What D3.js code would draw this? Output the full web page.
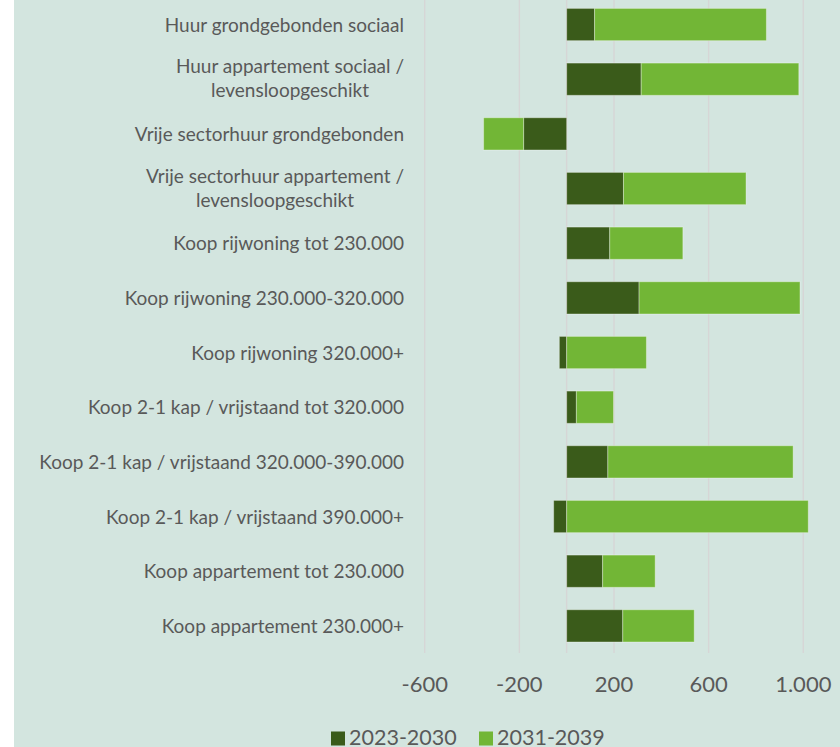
<!DOCTYPE html>
<html>
<head>
<meta charset="utf-8">
<script src="https://cdn.jsdelivr.net/npm/d3@7"></script>
<style>
  html, body { margin: 0; padding: 0; background: #ffffff; }
  svg { display: block; font-family: Lato, "Open Sans", sans-serif; }
</style>
</head>
<body>
<svg id="chart" width="840" height="747"></svg>
<script>
// ── Data ──────────────────────────────────────────────────────────────────
const categories = [
  'Huur grondgebonden sociaal',
  'Huur appartement sociaal /\nlevensloopgeschikt',
  'Vrije sectorhuur grondgebonden',
  'Vrije sectorhuur appartement /\nlevensloopgeschikt',
  'Koop rijwoning tot 230.000',
  'Koop rijwoning 230.000-320.000',
  'Koop rijwoning 320.000+',
  'Koop 2-1 kap / vrijstaand tot 320.000',
  'Koop 2-1 kap / vrijstaand 320.000-390.000',
  'Koop 2-1 kap / vrijstaand 390.000+',
  'Koop appartement tot 230.000',
  'Koop appartement 230.000+'
];
const period1 = [118, 315, -182, 240, 182, 306, -31, 41, 174, -55, 152, 237];
const period2 = [726, 666, -169, 518, 309, 680, 337, 157, 783, 1021, 222, 302];
const seriesNames = ['2023-2030', '2031-2039'];
const seriesColors = ['#3a5b1a', '#72b636'];
const xTicks = [-600, -200, 200, 600, 1000];

const svg = d3.select('#chart');
const W = 840, H = 747;
const textColor = '#595959';

// background panel (white strip on left edge)
svg.append('rect').attr('x', 14).attr('y', 0).attr('width', W - 14).attr('height', H)
  .attr('fill', '#d3e5df');

const x = d3.scaleLinear().domain([-600, 1000]).range([424.7, 803.3]);
const y = d3.scaleBand().domain(categories).range([-2.8, 653.2])
  .paddingInner(0.41).paddingOuter(0.205);

const nl = d3.formatLocale({ decimal: ',', thousands: '.', grouping: [3], currency: ['€', ''], minus: '-' });
const fmt = nl.format(',d');

// ── Gridlines ─────────────────────────────────────────────────────────────
const gridG = svg.append('g');
gridG.selectAll('line').data(xTicks.concat([0])).join('line')
  .attr('x1', d => x(d)).attr('x2', d => x(d))
  .attr('y1', 0).attr('y2', 653)
  .attr('stroke', '#d6d6d6').attr('stroke-width', 1.4);

// ── Bars ──────────────────────────────────────────────────────────────────
const rows = categories.map((c, i) => ({ cat: c, a: period1[i], b: period2[i] }));
const stack = d3.stack().keys(['a', 'b']).offset(d3.stackOffsetDiverging);
const layers = stack(rows);

svg.append('g').selectAll('g').data(layers).join('g')
  .attr('fill', (d, i) => seriesColors[i])
  .selectAll('rect').data(d => d).join('rect')
  .attr('x', d => x(Math.min(d[0], d[1])))
  .attr('y', d => y(d.data.cat))
  .attr('width', d => Math.abs(x(d[1]) - x(d[0])))
  .attr('height', y.bandwidth())
  .attr('stroke', 'rgba(255,255,255,0.35)')
  .attr('stroke-width', 1);

// ── Category labels ───────────────────────────────────────────────────────
const labelG = svg.append('g').attr('fill', textColor).attr('font-size', 19);
categories.forEach(c => {
  const lines = c.split('\n');
  const cy = y(c) + y.bandwidth() / 2;
  const t = labelG.append('text').attr('text-anchor', 'end');
  if (lines.length === 1) {
    t.attr('x', 404).attr('y', cy + 7).text(lines[0]);
  } else {
    // first line right aligned, second line centred under it
    t.attr('x', 404).attr('y', cy - 6).text(lines[0]);
    const w = t.node().getComputedTextLength();
    labelG.append('text').attr('text-anchor', 'middle')
      .attr('x', 404 - w / 2).attr('y', cy + 18).text(lines[1]);
  }
});

// ── X axis labels ─────────────────────────────────────────────────────────
svg.append('g').attr('fill', textColor).attr('font-size', 22)
  .selectAll('text').data(xTicks).join('text')
  .attr('x', d => x(d)).attr('y', 692)
  .attr('text-anchor', 'middle')
  .text(d => fmt(d));

// ── Legend ────────────────────────────────────────────────────────────────
const legendX = [331, 479];
const legG = svg.append('g');
seriesNames.forEach((s, i) => {
  legG.append('rect').attr('x', legendX[i]).attr('y', 731.5)
    .attr('width', 14).attr('height', 14).attr('fill', seriesColors[i]);
  legG.append('text').attr('x', legendX[i] + 18).attr('y', 745)
    .attr('fill', textColor).attr('font-size', 21.5).text(s);
});
</script>
</body>
</html>
